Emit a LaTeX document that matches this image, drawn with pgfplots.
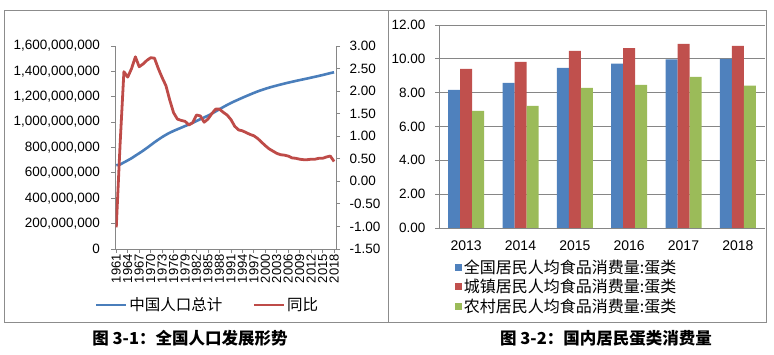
\documentclass[border=0pt]{standalone}
\usepackage{pgfplots}
\pgfplotsset{compat=1.18}
\usepackage{fontspec}
\setmainfont{Liberation Sans}
\newfontfamily\cjk{Noto Sans CJK SC}
\definecolor{axgray}{HTML}{868686}
\definecolor{framegray}{HTML}{8C8C8C}
\definecolor{blueS}{HTML}{4A7EBB}
\definecolor{redS}{HTML}{BE4B48}
\definecolor{barB}{HTML}{4F81BD}
\definecolor{barR}{HTML}{C0504D}
\definecolor{barG}{HTML}{9BBB59}
\begin{document}
\begin{tikzpicture}
\path[use as bounding box] (0pt,0pt) rectangle (774pt,355pt);
\draw[framegray, line width=0.8pt] (4pt,33pt) rectangle (388pt,345pt);
\draw[framegray, line width=0.8pt] (388pt,33pt) rectangle (766pt,345pt);

% ---------- left chart ----------
\begin{axis}[
  at={(115.5pt,106pt)}, anchor=south west, scale only axis,
  width=220.5pt, height=203pt,
  xmin=1960.8, xmax=2018.5, ymin=0, ymax=1600000000,
  axis x line*=bottom, axis y line*=left,
  axis line style={draw=axgray, line width=0.8pt, -},
  tick style={draw=axgray, line width=0.8pt}, tick align=outside,
  major tick length=4pt,
  xtick={1961,1964,1967,1970,1973,1976,1979,1982,1985,1988,1991,1994,1997,2000,2003,2006,2009,2012,2015,2018},
  xticklabel style={rotate=90, anchor=east, inner sep=1pt, font=\fontsize{13}{13}\selectfont,
    /pgf/number format/1000 sep={}, /pgf/number format/assume math mode=true},
  ytick={0,200000000,400000000,600000000,800000000,1000000000,1200000000,1400000000,1600000000},
  scaled y ticks=false,
  yticklabel style={font=\fontsize{13.5}{15}\selectfont, xshift=-8pt,
    /pgf/number format/.cd, fixed, precision=0, 1000 sep={,}, assume math mode=true},
  legend columns=2,
  legend style={draw=none, fill=none, at={(0.417,-0.276)}, anchor=center,
    font=\cjk\fontsize{15.5}{17}\selectfont,
    /tikz/every even column/.append style={column sep=28pt}},
  legend image code/.code={\draw[#1] (0pt,0pt) -- (30pt,0pt);},
]
\addplot[blueS, line width=2.6pt, line join=round] table[x=year,y=pop] {
year pop
1961 660330000
1962 665770000
1963 682335000
1964 698355000
1965 715185000
1966 735400000
1967 754550000
1968 774510000
1969 796025000
1970 818315000
1971 841105000
1972 862030000
1973 881940000
1974 900350000
1975 916395000
1976 930685000
1977 943455000
1978 956165000
1979 969005000
1980 981235000
1981 993885000
1982 1008630000
1983 1023310000
1984 1036825000
1985 1051040000
1986 1066790000
1987 1084035000
1988 1101630000
1989 1118650000
1990 1135185000
1991 1150780000
1992 1164970000
1993 1178440000
1994 1191835000
1995 1204855000
1996 1217550000
1997 1230075000
1998 1241935000
1999 1252735000
2000 1262645000
2001 1271850000
2002 1280400000
2003 1288400000
2004 1296075000
2005 1303720000
2006 1311020000
2007 1317885000
2008 1324655000
2009 1331260000
2010 1337705000
2011 1344130000
2012 1350695000
2013 1357380000
2014 1364270000
2015 1371220000
2016 1378665000
2017 1386395000
2018 1392730000
};
\addlegendentry{中国人口总计}
\addlegendimage{redS, line width=2.6pt}
\addlegendentry{同比}
\end{axis}

\begin{axis}[
  at={(115.5pt,106pt)}, anchor=south west, scale only axis,
  width=220.5pt, height=203pt,
  xmin=1960.8, xmax=2018.5, ymin=-1.5, ymax=3,
  axis x line=none, axis y line*=right,
  axis line style={draw=axgray, line width=0.8pt, -},
  tick style={draw=axgray, line width=0.8pt}, tick align=outside,
  major tick length=4pt,
  ytick={-1.5,-1,-0.5,0,0.5,1,1.5,2,2.5,3},
  yticklabel style={font=\fontsize{13.5}{15}\selectfont, xshift=6pt,
    /pgf/number format/.cd, fixed, fixed zerofill, precision=2, assume math mode=true},
]
\addplot[redS, line width=2.8pt, line join=round] table[x=year,y=g] {
year g
1961 -1.02
1962 0.82
1963 2.43
1964 2.31
1965 2.50
1966 2.76
1967 2.54
1968 2.60
1969 2.68
1970 2.74
1971 2.73
1972 2.50
1973 2.30
1974 2.12
1975 1.80
1976 1.52
1977 1.38
1978 1.35
1979 1.33
1980 1.25
1981 1.30
1982 1.47
1983 1.45
1984 1.31
1985 1.38
1986 1.50
1987 1.60
1988 1.60
1989 1.53
1990 1.47
1991 1.37
1992 1.22
1993 1.14
1994 1.12
1995 1.08
1996 1.04
1997 1.01
1998 0.95
1999 0.87
2000 0.79
2001 0.72
2002 0.67
2003 0.62
2004 0.59
2005 0.58
2006 0.56
2007 0.52
2008 0.51
2009 0.49
2010 0.48
2011 0.48
2012 0.49
2013 0.49
2014 0.51
2015 0.51
2016 0.54
2017 0.56
2018 0.44
};
\end{axis}

% ---------- right chart ----------
\begin{axis}[
  at={(439pt,127pt)}, anchor=south west, scale only axis,
  width=326pt, height=203pt,
  xmin=-0.5, xmax=5.5, ymin=0, ymax=12,
  axis x line*=bottom, axis y line*=left,
  axis line style={draw=axgray, line width=0.8pt, -},
  tick style={draw=axgray, line width=0.8pt}, tick align=outside,
  ymajorgrids, grid style={draw=axgray, line width=0.8pt},
  ytick={0,2,4,6,8,10,12},
  yticklabel style={font=\fontsize{13.5}{15}\selectfont, xshift=-6pt,
    /pgf/number format/.cd, fixed, fixed zerofill, precision=2, assume math mode=true},
  major tick length=4pt,
  xtick={0,1,2,3,4,5},
  xticklabels={2013,2014,2015,2016,2017,2018},
  x tick style={draw=none},
  minor xtick={-0.5,0.5,1.5,2.5,3.5,4.5,5.5},
  minor tick length=5pt,
  xticklabel style={font=\fontsize{14}{15}\selectfont, yshift=-5pt},
  ybar=0pt, bar width=12pt,
  legend style={draw=none, fill=none, at={(0.048,-0.145)}, anchor=north west,
    font=\cjk\fontsize{16}{18}\selectfont, row sep=0.5pt, inner sep=0pt},
  legend cell align=left,
  legend image code/.code={\fill[#1] (0pt,-3.5pt) rectangle (7pt,3.5pt);},
]
\addplot[fill=barB, draw=none] coordinates {(0,8.16) (1,8.58) (2,9.46) (3,9.72) (4,9.97) (5,9.99)};
\addlegendentry{全国居民人均食品消费量:蛋类}
\addplot[fill=barR, draw=none] coordinates {(0,9.40) (1,9.82) (2,10.47) (3,10.63) (4,10.88) (5,10.76)};
\addlegendentry{城镇居民人均食品消费量:蛋类}
\addplot[fill=barG, draw=none] coordinates {(0,6.93) (1,7.22) (2,8.28) (3,8.46) (4,8.93) (5,8.41)};
\addlegendentry{农村居民人均食品消费量:蛋类}
\end{axis}

\node[font=\cjk\bfseries\fontsize{16.5}{18}\selectfont] at (190pt,17pt) {图 3-1：全国人口发展形势};
\node[font=\cjk\bfseries\fontsize{16.5}{18}\selectfont] at (606pt,17pt) {图 3-2：国内居民蛋类消费量};
\end{tikzpicture}
\end{document}
